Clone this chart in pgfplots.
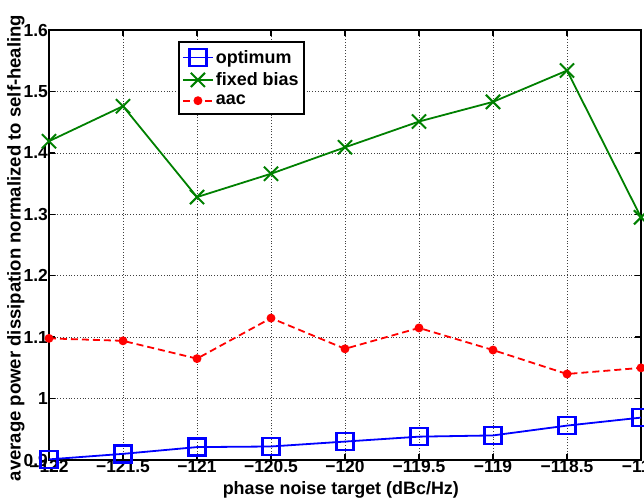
\documentclass[border=0pt]{standalone}
\usepackage{fontspec}
\setmainfont{Liberation Sans}
\usepackage{pgfplots}
\pgfplotsset{compat=1.18}
\definecolor{mblue}{rgb}{0,0,1}
\definecolor{mgreen}{rgb}{0,0.5,0}
\definecolor{mred}{rgb}{1,0,0}
\begin{document}
\begin{tikzpicture}
\useasboundingbox (-49bp,-40bp) rectangle (595bp,460bp);
\begin{axis}[
  at={(0,0)}, anchor=south west,
  scale only axis, width=592bp, height=430bp,
  xmin=-122, xmax=-118, ymin=0.9, ymax=1.6,
  xtick={-122,-121.5,-121,-120.5,-120,-119.5,-119,-118.5,-118},
  xticklabels={−122,−121.5,−121,−120.5,−120,−119.5,−119,−118.5,−118},
  ytick={0.9,1,1.1,1.2,1.3,1.4,1.5,1.6},
  yticklabels={0.9,1,1.1,1.2,1.3,1.4,1.5,1.6},
  tick label style={font=\fontsize{17.5}{17.5}\selectfont\bfseries, inner sep=1bp},
  xticklabel style={yshift=1bp},
  grid=major,
  major grid style={black!75, line width=0.6bp, dash pattern=on 1bp off 1.8bp},
  tick align=inside, major tick length=6bp,
  tick style={black, line width=1.5bp},
  axis line style={line width=2bp},
  xlabel={\bfseries phase noise target (dBc/Hz)},
  ylabel={\bfseries average power dissipation normalized to self-healing},
  xlabel style={at={(rel axis cs:0.493,0)}, anchor=center, yshift=-30bp, font=\fontsize{18}{18}\selectfont},
  ylabel style={at={(rel axis cs:0,0.493)}, anchor=center, yshift=33bp, font=\fontsize{18.6}{18.6}\selectfont},
  clip=false,
  legend style={at={(rel axis cs:0.218,0.974)}, anchor=north west, draw=black, line width=2bp,
    font=\fontsize{18}{20}\selectfont\bfseries, inner xsep=3bp, inner ysep=6bp, row sep=4bp},
  legend cell align=left,
  legend image code/.code={\draw[mark repeat=2,mark phase=2,#1] plot coordinates {(0bp,0bp) (15bp,0bp) (30bp,0bp)};},
]
\addplot[mblue, line width=1.8bp, mark=square, mark size=8.5bp, mark options={line width=2.5bp, solid}]
  coordinates {(-122,0.901) (-121.5,0.910) (-121,0.921) (-120.5,0.922) (-120,0.930) (-119.5,0.938) (-119,0.940) (-118.5,0.956) (-118,0.969)};
\addlegendentry{optimum}
\addplot[mgreen, line width=1.8bp, mark=x, mark size=10bp, mark options={line width=2bp, solid}]
  coordinates {(-122,1.419) (-121.5,1.476) (-121,1.328) (-120.5,1.366) (-120,1.409) (-119.5,1.451) (-119,1.483) (-118.5,1.534) (-118,1.295)};
\addlegendentry{fixed bias\hspace{34bp}}
\addplot[mred, line width=1.8bp, dash pattern=on 7bp off 4bp, mark=*, mark size=3.5bp, mark options={solid}]
  coordinates {(-122,1.098) (-121.5,1.094) (-121,1.065) (-120.5,1.131) (-120,1.081) (-119.5,1.115) (-119,1.079) (-118.5,1.040) (-118,1.050)};
\addlegendentry{aac}
\end{axis}
\end{tikzpicture}
\end{document}
